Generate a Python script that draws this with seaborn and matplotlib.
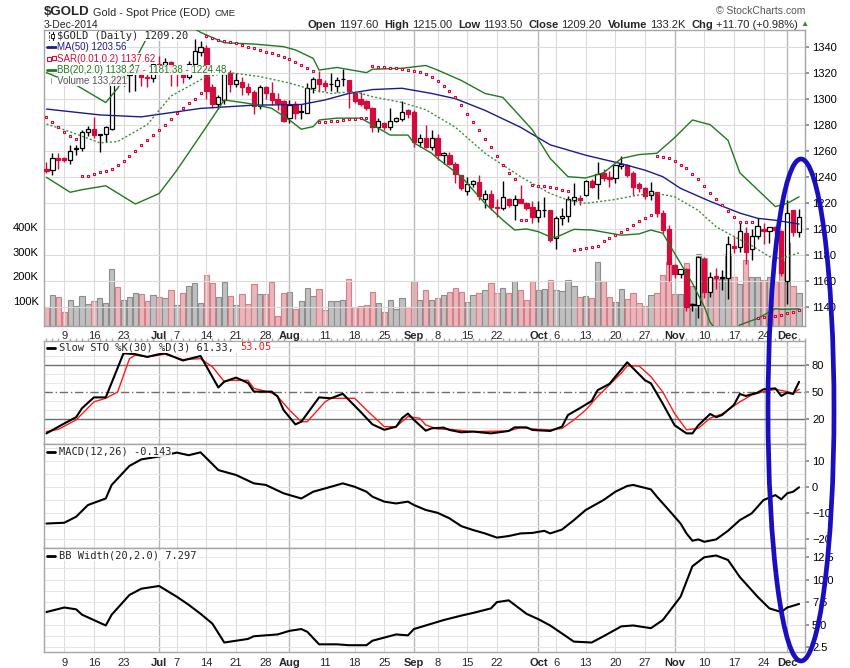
"""
$GOLD daily chart (Jun - Dec 2014) in the StockCharts layout:
candles + MA/BB/SAR + volume, Slow STO, MACD and BB Width panels.
Output: out.png (850x668)
"""

import matplotlib
matplotlib.use("Agg")
import matplotlib.pyplot as plt
from matplotlib.lines import Line2D
from matplotlib.patches import Ellipse, Rectangle
from matplotlib.ticker import MultipleLocator
import numpy as np
import seaborn as sns

# -------------------------------
# Data (trading-day index 0 = 4-Jun-2014 ... 127 = 3-Dec-2014)
# -------------------------------
opens = [1246, 1245, 1254, 1254, 1253, 1261, 1262, 1274, 1277, 1272,
         1273, 1277, 1316, 1316, 1318, 1320, 1322, 1317, 1316, 1327,
         1326, 1328, 1322, 1320, 1317, 1327, 1336, 1339, 1309, 1296,
         1299, 1320, 1311, 1313, 1309, 1305, 1294, 1309, 1304, 1300,
         1298, 1285, 1296, 1290, 1289, 1308, 1315, 1312, 1311, 1310,
         1315, 1314, 1304, 1300, 1298, 1293, 1278, 1281, 1278, 1283,
         1284, 1291, 1290, 1267, 1270, 1263, 1270, 1257, 1257, 1250,
         1241, 1229, 1234, 1236, 1223, 1227, 1217, 1216, 1223, 1218,
         1223, 1220, 1217, 1209, 1214, 1214, 1193, 1208, 1210, 1222,
         1223.5, 1226, 1237, 1234, 1243, 1240, 1239, 1248, 1249, 1243,
         1234, 1231, 1226, 1228, 1212, 1200, 1172, 1165, 1169, 1141,
         1141, 1177, 1151, 1163.6, 1162, 1162, 1187, 1186, 1197, 1184,
         1194, 1200, 1198, 1201, 1198, 1160, 1214, 1197.6]
highs = [1251, 1258, 1258, 1255, 1264, 1264, 1276, 1279, 1286, 1273,
         1279, 1320, 1321, 1322, 1325, 1324, 1324, 1319, 1329, 1333,
         1331, 1329, 1324, 1321, 1329, 1346, 1344, 1341, 1311, 1303,
         1321, 1322, 1320, 1317, 1312, 1307, 1310.5, 1310, 1313, 1304,
         1299, 1299, 1298, 1296, 1312, 1317, 1321, 1314, 1320, 1317,
         1323, 1314.5, 1305, 1305, 1299, 1293.5, 1285, 1282, 1292.6, 1286,
         1298.5, 1292, 1291, 1273, 1280, 1276, 1273, 1259, 1259, 1251,
         1241.5, 1240, 1237.5, 1241, 1230, 1230, 1223, 1237, 1223.5, 1226,
         1233.6, 1220.5, 1221, 1221, 1224.6, 1214.5, 1209.5, 1216, 1225, 1235,
         1226, 1237.5, 1238, 1251, 1246, 1244, 1249, 1256, 1250, 1244,
         1236, 1232, 1236, 1228.5, 1214, 1203, 1173, 1169, 1169.5, 1142.6,
         1179, 1178, 1167, 1169.5, 1168, 1194, 1194, 1204.6, 1201.5, 1199.5,
         1208, 1204, 1201.5, 1202, 1199, 1222, 1214.5, 1215]
lows = [1243, 1241, 1246, 1251, 1250, 1257, 1260, 1271, 1270, 1259,
        1267, 1276, 1310, 1310, 1305, 1306, 1310, 1309, 1313, 1323,
        1322, 1310, 1310, 1312, 1315, 1325, 1333, 1300, 1293, 1292,
        1296, 1305, 1309, 1303, 1303, 1288, 1292, 1300, 1295, 1291,
        1282, 1281, 1284, 1284, 1289, 1304, 1305, 1306, 1306, 1305,
        1310, 1293, 1297, 1294, 1291, 1274, 1274.6, 1276, 1276, 1282,
        1283, 1285, 1263, 1262.6, 1262, 1260.5, 1253, 1250, 1249, 1235,
        1230, 1226, 1232, 1222, 1216, 1214, 1209, 1214, 1217, 1207,
        1219.5, 1214, 1204.6, 1205, 1209, 1190, 1184, 1203, 1205, 1218,
        1218, 1225.5, 1231.5, 1222.6, 1237, 1232, 1235, 1245.6, 1240, 1226,
        1228.5, 1223, 1222, 1209, 1197, 1159.5, 1162, 1162, 1137, 1137,
        1131, 1146.4, 1147.7, 1154, 1153, 1146, 1181, 1182, 1173, 1176,
        1192, 1188, 1189, 1196, 1163.6, 1142, 1194, 1193.5]
closes = [1244, 1254, 1253, 1252.5, 1260, 1262, 1274, 1277, 1272, 1272.5,
          1278, 1314, 1313, 1318, 1320, 1322, 1317, 1316, 1327, 1326,
          1328, 1320, 1321, 1317, 1327, 1337, 1340, 1306, 1296, 1301,
          1319, 1311, 1314, 1309, 1305, 1294, 1309, 1304, 1299, 1297,
          1283, 1295, 1289, 1290, 1308, 1315, 1311, 1310, 1311, 1314,
          1315, 1306, 1298, 1296, 1293, 1278, 1283, 1278, 1283, 1285,
          1290, 1288, 1267, 1270, 1263, 1270, 1257, 1258, 1250, 1242,
          1231, 1234, 1237, 1225, 1227, 1217, 1216, 1224, 1218, 1223,
          1220, 1216, 1209, 1214, 1214.5, 1191, 1208, 1210, 1223, 1224,
          1222, 1237, 1232, 1242, 1239, 1238.5, 1249, 1250, 1241, 1232,
          1231, 1225, 1229, 1212, 1199, 1173, 1165, 1169, 1140, 1142,
          1178, 1151.5, 1163, 1162, 1162.3, 1188, 1185.5, 1198, 1182, 1194,
          1202, 1198, 1201, 1199, 1166, 1212, 1197.6, 1209.2]
volume_k = [76, 124, 116, 57, 104, 80, 120, 88, 100, 112,
            93, 229, 157, 104, 116, 132, 128, 100, 124, 116,
            112, 144, 84, 132, 161, 173, 92, 205, 173, 116,
            177, 120, 84, 128, 88, 169, 128, 128, 177, 39,
            132, 136, 67, 100, 152, 120, 148, 63, 100, 100,
            104, 189, 76, 80, 84, 136, 92, 55, 104, 67,
            112, 76, 181, 104, 144, 104, 112, 124, 136, 152,
            136, 96, 124, 132, 144, 173, 132, 152, 132, 181,
            144, 104, 181, 144, 148, 185, 144, 140, 185, 161,
            116, 120, 112, 258, 181, 116, 96, 148, 108, 132,
            92, 80, 124, 132, 205, 258, 128, 128, 254, 161,
            291, 274, 193, 190, 190, 290, 197, 169, 266, 197,
            197, 186, 197, 180, 260, 335, 161, 133]
sar = [1285.7, 1282, 1278.3, 1274.3, 1271, 1269, 1240.8, 1240.8, 1242, 1243.8,
       1244, 1245.7, 1248.8, 1252.3, 1255.7, 1260, 1264.4, 1268, 1272, 1276,
       1280, 1284.4, 1288.8, 1292.6, 1297, 1300, 1304, 1348, 1346.4, 1345,
       1344.6, 1343.7, 1342.6, 1341.3, 1340, 1338.8, 1337.5, 1336, 1335, 1333.8,
       1332.3, 1330.5, 1328.2, 1326, 1323.8, 1321.5, 1281.8, 1281.8, 1282.8, 1282.8,
       1283.6, 1284, 1284, 1285, 1285, 1325, 1324.6, 1324, 1323.4, 1323.4,
       1322.6, 1322, 1321.5, 1320.4, 1318.8, 1316.5, 1313.6, 1309.8, 1306, 1301,
       1295, 1288, 1281.8, 1276, 1268.8, 1262.6, 1256, 1248.8, 1242.6, 1238,
       1207, 1207, 1233.4, 1233, 1233, 1232.3, 1231.6, 1229.8, 1229, 1183.6,
       1184.4, 1185, 1185.7, 1187, 1190.5, 1192.6, 1194.8, 1197.7, 1200, 1202.8,
       1206, 1208, 1210.5, 1256, 1255.4, 1254, 1252, 1249, 1246.4, 1242,
       1238, 1232.8, 1227.2, 1222.6, 1218, 1213.6, 1209, 1205.4, 1205, 1205,
       1131.6, 1132.3, 1132.5, 1132.8, 1133.6, 1134.8, 1136, 1137.6]

# indicator lines at these day indices
ma_idx = [0, 9, 16, 26, 35, 43, 47, 51, 55, 60, 65, 69, 74, 80, 85, 91, 97, 101,
          104, 107, 112, 117, 120, 123, 127]
ma_val = [1292, 1287.5, 1286, 1292.5, 1295, 1295.5, 1299, 1304, 1307, 1308, 1304,
          1300, 1291, 1278, 1264.5, 1256.5, 1250, 1245, 1240, 1231, 1221, 1212,
          1208, 1206.5, 1203.6]
bb_up_idx = [0, 5, 10, 12, 15, 18, 22, 26, 30, 35, 40, 42, 45, 46, 49, 54, 55, 60,
             64, 66, 70, 74, 77, 79, 82, 85, 88, 91, 94, 97, 100, 103, 106, 109,
             112, 115, 117, 120, 123, 125, 127]
bb_up_val = [1320, 1310.5, 1297, 1308, 1330, 1356, 1362, 1351, 1343, 1342, 1340,
             1337.5, 1331, 1322, 1324, 1320, 1322.6, 1323.4, 1325.5, 1322, 1314,
             1304, 1301, 1291, 1276, 1254, 1240, 1239, 1243, 1254, 1257, 1258,
             1270, 1283.6, 1280, 1268, 1243, 1230, 1217, 1219.5, 1224.5]
bb_mid_idx = [0, 4, 9, 12, 17, 21, 27, 31, 36, 41, 45, 48, 52, 55, 60, 64, 69, 74,
              80, 85, 88, 91, 96, 100, 103, 106, 110, 113, 116, 119, 122, 124, 127]
bb_mid_val = [1280.5, 1274.5, 1266, 1267, 1280, 1302, 1317, 1320, 1317, 1312,
              1306.7, 1304, 1305.4, 1301.5, 1297, 1291.5, 1278, 1258, 1240, 1227,
              1222, 1219.5, 1222.5, 1226, 1227, 1224.6, 1214, 1201.5, 1194, 1187,
              1178.5, 1177, 1181.4]
bb_lo_idx = [0, 4, 6, 10, 15, 19, 22, 27, 30, 34, 38, 41, 43, 45, 46, 49, 53, 55,
             58, 61, 62, 65, 66, 70, 74, 77, 79, 81, 83, 85, 86, 89, 92, 97, 100,
             102, 104, 106, 109, 111, 112, 114, 116, 117, 120, 122, 123, 124, 127]
bb_lo_val = [1239.5, 1228, 1230, 1233, 1219, 1227, 1245, 1278.5, 1299, 1296.4,
             1292.6, 1283.6, 1276.5, 1278.5, 1283.6, 1285, 1285, 1280, 1272, 1272,
             1266, 1258, 1254, 1240, 1219.5, 1206.7, 1199, 1199.8, 1197.7, 1193.8,
             1193.4, 1199.5, 1199, 1195, 1196, 1199, 1196.5, 1181, 1158, 1140,
             1128, 1116, 1120, 1126, 1131, 1136, 1138.5, 1138, 1138.3]

k_idx = [0, 3, 5, 6, 8, 10, 13, 15, 17, 19, 20, 23, 26, 29, 30, 32, 34, 35, 38, 39,
         40, 42, 43, 46, 48, 50, 53, 55, 57, 59, 60, 61, 62, 64, 65, 67, 68, 70, 72,
         75, 78, 79, 81, 82, 85, 87, 88, 90, 92, 93, 95, 98, 101, 102, 104, 106,
         108, 109, 110, 112, 113, 114, 116, 117, 118, 120, 121, 123, 124, 125, 126, 127]
k_val = [4, 15, 22, 32, 44, 44, 93, 92, 89, 92, 93, 85, 90, 55, 61.5, 66, 60, 50.4,
         50.4, 45, 30, 14, 17, 44, 43, 48, 28, 14, 8, 11.4, 21, 26, 19, 7, 9.6, 10.4,
         7.8, 5.2, 6, 4, 6.7, 10.7, 10.7, 7.8, 6.7, 11.5, 24.4, 32, 40, 52, 59, 83,
         63, 59.6, 37, 13, 4, 4, 13, 25.6, 22, 24.4, 35.6, 47.8, 45.6, 49.3, 53, 54,
         45.6, 49.3, 47.8, 61.3]
d_idx = [0, 2, 5, 8, 10, 12, 14, 15, 17, 20, 23, 26, 28, 30, 31, 34, 35, 38, 39, 41,
         43, 44, 47, 48, 52, 54, 57, 59, 61, 63, 64, 66, 68, 72, 78, 80, 83, 85, 87,
         89, 91, 93, 95, 97, 98, 100, 102, 104, 106, 108, 110, 112, 114, 117, 119,
         121, 123, 125, 126, 127]
d_val = [6, 8.5, 19, 39, 43, 50, 87, 91, 89, 92, 86, 87, 78, 61.5, 63, 63, 54, 49,
         45, 30, 17, 17, 39, 43, 43, 30, 11.5, 11.5, 22.6, 20.8, 13.3, 8.9, 8.5, 6,
         6.7, 10.4, 8.5, 7.8, 9.6, 19, 30, 45, 58, 71, 79, 79, 67, 50, 26, 8, 9.6,
         21, 25.6, 39, 46.7, 50.4, 53, 50.4, 48.5, 53]
macd_idx = [0, 3, 5, 7, 10, 11, 14, 16, 19, 22, 24, 26, 29, 32, 35, 37, 40, 43, 45,
            48, 50, 52, 54, 55, 57, 59, 61, 62, 64, 66, 68, 70, 72, 74, 76, 78, 80,
            82, 84, 85, 87, 89, 91, 94, 96, 98, 99, 102, 103, 105, 107, 108, 109,
            110, 111, 113, 115, 117, 119, 121, 123, 124, 125, 126, 127]
macd_val = [-14, -13.7, -11.4, -6.9, -4.4, 0.8, 8.1, 10.6, 11.7, 13.2, 12.2, 13.3,
            6.5, 4.6, 1.4, 0.8, -2.4, -4.4, -1.8, 0.1, 1.4, 0.1, -1.8, -3.7, -5.6,
            -6.3, -5.6, -6.9, -8.8, -9.9, -12, -15, -16.5, -17.8, -19.4, -18.8,
            -17.8, -17.6, -16.8, -17.8, -16.3, -12.7, -8.8, -5, -1.8, 0.4, 0.8,
            -0.9, -3.7, -8.8, -14, -17.8, -20.6, -20.1, -21, -20.1, -16.8, -12.7,
            -10.1, -5, -3.1, -4.7, -2.4, -1.8, -0.1]
bbw_idx = [0, 3, 5, 6, 10, 11, 14, 16, 19, 22, 24, 26, 28, 30, 32, 34, 35, 39, 41,
           43, 44, 46, 49, 51, 54, 55, 59, 61, 62, 64, 65, 67, 70, 72, 75, 76, 78,
           81, 83, 85, 89, 92, 94, 97, 99, 102, 104, 107, 109, 111, 113, 115, 117,
           120, 122, 124, 125, 127]
bbw_val = [6.4, 6.9, 6.7, 6.1, 4.9, 6.1, 8.3, 9, 9.3, 8.1, 7.2, 6.2, 5.1, 3, 3.2,
           3.4, 3.7, 3.9, 4.3, 4.5, 4.2, 2.8, 2.8, 2.7, 2.7, 3.2, 3.9, 3.8, 4.5,
           4.9, 5.1, 5.5, 6, 6.3, 6.8, 7.5, 7.7, 6.2, 5.6, 4.9, 3.1, 3, 3.7, 4.8,
           4.9, 4.6, 5.5, 8.1, 11.5, 12.5, 12.7, 12.2, 10.3, 8.1, 6.8, 6.4, 6.9, 7.3]

tick_idx = [3, 8, 13, 19, 22, 27, 32, 37, 41, 47, 52, 57, 62, 66, 71, 76, 83, 86,
            91, 96, 101, 106, 111, 116, 121, 125]
tick_lab = ["9", "16", "23", "Jul", "7", "14", "21", "28", "Aug", "11", "18", "25",
            "Sep", "8", "15", "22", "Oct", "6", "13", "20", "27", "Nov", "10", "17",
            "24", "Dec"]

# -------------------------------
# Style
# -------------------------------
RED = "#d40a3c"
NAVY = "#1b1b8f"
GREEN = "#1f7a1f"
GRID = "#dcdcdc"
SPINE = "#a5a5a5"
W, H = 850, 668

sns.set_theme(style="white")
plt.rcParams["font.family"] = ["Liberation Sans", "DejaVu Sans"]
MONO = ["DejaVu Sans Mono", "DejaVu Sans"]

fig = plt.figure(figsize=(W / 100, H / 100), dpi=100)
renderer = fig.canvas.get_renderer()


def box(x0, y0, x1, y1):
    return [x0 / W, 1 - y1 / H, (x1 - x0) / W, (y1 - y0) / H]


def fx(px):
    return px / W


def fy(py):
    return 1 - py / H


L, R = 44.3, 805
XLIM = (-0.37, 128.0)
ax_v = fig.add_axes(box(L, 30, R, 325.7))
ax_p = fig.add_axes(box(L, 30, R, 325.7))
ax_s = fig.add_axes(box(L, 340.7, R, 444))
ax_m = fig.add_axes(box(L, 444, R, 548.3))
ax_b = fig.add_axes(box(L, 548.3, R, 652.3))
ax_v.set_zorder(0)
ax_p.set_zorder(1)
ax_p.patch.set_visible(False)

x = np.arange(len(closes))
o, h, l, c = map(np.array, (opens, highs, lows, closes))
up = c >= o

# -------------------------------
# Volume (behind the price panel)
# -------------------------------
vol = np.array(volume_k)
down_day = np.r_[True, c[1:] < c[:-1]]
ax_v.bar(x, vol, width=0.9,
         color=np.where(down_day, "#e8b6bb", "#c0c0c0"),
         edgecolor=np.where(down_day, "#d77f88", "#8c8c8c"), linewidth=0.8)
ax_v.set_xlim(*XLIM)
ax_v.set_ylim(0, 1197)
ax_v.set_yticks([100, 200, 300, 400], ["100K", "200K", "300K", "400K"])
ax_v.tick_params(axis="y", labelsize=8, length=3, pad=1, colors="black")
ax_v.tick_params(axis="x", bottom=False, labelbottom=False)
for sp in ax_v.spines.values():
    sp.set_visible(False)

# -------------------------------
# Price panel
# -------------------------------
for ti, lab in zip(tick_idx, tick_lab):
    month = lab.isalpha()
    for ax in (ax_p, ax_s, ax_m, ax_b):
        ax.axvline(ti, color="#b8b8b8" if month else GRID,
                   lw=1.0 if month else 0.8, zorder=0.5)

ax_p.vlines(x, l, h, colors=np.where(up, "black", RED), lw=1.0, zorder=3)
ax_p.bar(x, np.maximum(np.abs(c - o), 0.5), bottom=np.minimum(o, c), width=0.72,
         color=np.where(up, "white", RED), edgecolor=np.where(up, "black", RED),
         linewidth=0.9, zorder=4)

sns.lineplot(x=ma_idx, y=ma_val, ax=ax_p, color=NAVY, linewidth=1.0, zorder=5)
sns.lineplot(x=bb_up_idx, y=bb_up_val, ax=ax_p, color=GREEN, linewidth=1.0, zorder=5)
sns.lineplot(x=bb_lo_idx, y=bb_lo_val, ax=ax_p, color=GREEN, linewidth=1.0, zorder=5)
sns.lineplot(x=bb_mid_idx, y=bb_mid_val, ax=ax_p, color="#3f8f3f", linewidth=1.0,
             linestyle=(0, (1.5, 1.5)), zorder=5)
ax_p.scatter(x, sar, marker="s", s=4, facecolor="white", edgecolor=RED,
             linewidth=0.8, zorder=6)

ax_p.set_xlim(*XLIM)
ax_p.set_ylim(1125.4, 1352.8)
ax_p.set_yticks(range(1140, 1341, 20))
ax_p.yaxis.tick_right()
ax_p.grid(axis="y", color=GRID, lw=0.8)
ax_p.set_axisbelow(True)

# -------------------------------
# Slow STO
# -------------------------------
ax_s.set_ylim(-7.8, 107)
ax_s.set_yticks([20, 50, 80])
ax_s.yaxis.set_minor_locator(MultipleLocator(10))
ax_s.grid(which="minor", axis="y", color="#e8e8e8", lw=0.7)
ax_s.axhline(80, color="#6e6e6e", lw=1.0, zorder=1)
ax_s.axhline(20, color="#6e6e6e", lw=1.0, zorder=1)
ax_s.axhline(50, color="#6e6e6e", lw=1.0, ls=(0, (6, 2, 1, 2)), zorder=1)
sns.lineplot(x=d_idx, y=d_val, ax=ax_s, color="#ff1a1a", linewidth=1.0, zorder=3)
sns.lineplot(x=k_idx, y=k_val, ax=ax_s, color="black", linewidth=1.5, zorder=4)

# -------------------------------
# MACD
# -------------------------------
ax_m.set_ylim(-23.5, 16.5)
ax_m.set_yticks([-20, -10, 0, 10])
ax_m.yaxis.set_minor_locator(MultipleLocator(5))
ax_m.grid(which="both", axis="y", color="#e6e6e6", lw=0.7)
sns.lineplot(x=macd_idx, y=macd_val, ax=ax_m, color="black", linewidth=1.5, zorder=4)

# -------------------------------
# BB Width
# -------------------------------
ax_b.set_ylim(1.91, 13.5)
ax_b.set_yticks([2.5, 5, 7.5, 10, 12.5], ["2.5", "5.0", "7.5", "10.0", "12.5"])
ax_b.yaxis.set_minor_locator(MultipleLocator(1.25))
ax_b.grid(which="both", axis="y", color="#e6e6e6", lw=0.7)
sns.lineplot(x=bbw_idx, y=bbw_val, ax=ax_b, color="black", linewidth=1.5, zorder=4)

# -------------------------------
# Shared axis cosmetics
# -------------------------------
for ax in (ax_p, ax_s, ax_m, ax_b):
    ax.set_xlim(*XLIM)
    ax.set_xlabel("")
    ax.set_ylabel("")
    ax.yaxis.tick_right()
    ax.tick_params(axis="y", which="major", labelsize=8, length=3, pad=2,
                   color="#888888", labelcolor="black")
    ax.tick_params(axis="y", which="minor", length=0)
    for sp in ax.spines.values():
        sp.set_color(SPINE)
        sp.set_linewidth(1.0)
    ax.set_xticks(tick_idx, tick_lab)
    ax.xaxis.set_minor_locator(MultipleLocator(1))
    ax.tick_params(axis="x", which="major", length=3, color="#999999",
                   labelsize=8, pad=1)
    ax.tick_params(axis="x", which="minor", length=2, color="#aaaaaa")
    for lab in ax.get_xticklabels():
        if lab.get_text().isalpha():
            lab.set_fontweight("bold")

for ax in (ax_s, ax_m):
    ax.tick_params(axis="x", which="both", labelbottom=False, bottom=False)
ax_s.tick_params(axis="x", which="minor", top=True)

# -------------------------------
# Header
# -------------------------------
t_sym = fig.text(fx(44), fy(12), "$GOLD", fontsize=9.5, fontweight="bold",
                 va="center")
x_next = 44 + t_sym.get_window_extent(renderer).width + 3
t_name = fig.text(fx(x_next), fy(12.5), "Gold - Spot Price (EOD)", fontsize=7.8,
                  va="center")
x_next += t_name.get_window_extent(renderer).width + 5
fig.text(fx(x_next), fy(13), "CME", fontsize=6.8, va="center")
fig.text(fx(44), fy(24.5), "3-Dec-2014", fontsize=7.5, va="center")
fig.text(fx(805), fy(10.5), "\u00a9 StockCharts.com", fontsize=7.5, color="#555555",
         ha="right", va="center")

pieces = [("Open", True), (f"{opens[-1]:.2f}", False), ("High", True),
          (f"{highs[-1]:.2f}", False), ("Low", True), (f"{lows[-1]:.2f}", False),
          ("Close", True), (f"{closes[-1]:.2f}", False), ("Volume", True),
          ("133.2K", False), ("Chg", True), ("+11.70 (+0.98%)", False)]
placed, cursor = [], 0.0
for s, bold in pieces:
    t = fig.text(0, fy(24.5), s, fontsize=8, va="center", ha="left",
                 fontweight="bold" if bold else "normal")
    w = t.get_window_extent(renderer).width
    placed.append((t, cursor))
    cursor += w + (3 if bold else 6)
start = 798 - (cursor - 6)
for t, off in placed:
    t.set_x(fx(start + off))
fig.text(fx(800), fy(24), "\u25b2", fontsize=6, color="#2e8b2e", va="center")

# -------------------------------
# Legends
# -------------------------------
BOX = dict(facecolor="white", edgecolor="none", pad=0.3, alpha=0.9)


def fline(x0, x1, y, color, lw=2.0):
    fig.add_artist(Line2D([fx(x0), fx(x1)], [fy(y), fy(y)], color=color, lw=lw,
                          transform=fig.transFigure, zorder=6))


# candle icon
fig.add_artist(Line2D([fx(48.5), fx(48.5)], [fy(32), fy(40)], color="black", lw=0.8,
                      transform=fig.transFigure, zorder=6))
fig.add_artist(Rectangle((fx(47.5), fy(38.5)), 2 / W, 4 / H, facecolor="black",
                         transform=fig.transFigure, zorder=6))
fig.add_artist(Line2D([fx(52.5), fx(52.5)], [fy(32), fy(40)], color="black", lw=0.8,
                      transform=fig.transFigure, zorder=6))
fig.add_artist(Rectangle((fx(51.3), fy(38)), 2.4 / W, 4 / H, facecolor="white",
                         edgecolor="black", lw=0.6, transform=fig.transFigure, zorder=6))
fig.text(fx(57), fy(36), "$GOLD (Daily) 1209.20", fontsize=7.5, family=MONO,
         va="center", bbox=BOX, zorder=7)
fline(47, 56, 47.3, NAVY)
fig.text(fx(57), fy(47.3), "MA(50) 1203.56", fontsize=7, color=NAVY, va="center",
         bbox=BOX, zorder=7)
fig.add_artist(Line2D([fx(48.5), fx(53.5)], [fy(58.5), fy(57.5)], ls="none",
                      marker="s", ms=2.2, mfc="white", mec=RED, mew=0.8,
                      transform=fig.transFigure, zorder=6))
fig.text(fx(57), fy(58.5), "SAR(0.01,0.2) 1137.62", fontsize=7, color=RED,
         va="center", bbox=BOX, zorder=7)
fline(47, 56, 70, GREEN)
fig.text(fx(57), fy(70), "BB(20,2.0) 1138.27 - 1181.38 - 1224.48", fontsize=7,
         color=GREEN, va="center", bbox=BOX, zorder=7)
for bx, bh in ((47.5, 4), (50, 6), (52.5, 5)):
    fig.add_artist(Rectangle((fx(bx), fy(83.5)), 1.8 / W, bh / H, facecolor="#666666",
                             transform=fig.transFigure, zorder=6))
fig.text(fx(57), fy(80.5), "Volume 133,221", fontsize=7, color="#555555",
         va="center", bbox=BOX, zorder=7)

fline(47, 55, 347.5, "black")
t1 = fig.text(fx(59), fy(347.5), "Slow STO %K(30) %D(3) 61.33, ", fontsize=7.5,
              family=MONO, va="center", bbox=BOX, zorder=7)
w1 = t1.get_window_extent(renderer).width
fig.text(fx(59 + w1), fy(347.5), "53.05", fontsize=7.5, family=MONO, color="#ff1a1a",
         va="center", bbox=BOX, zorder=7)
fline(47, 55, 451.7, "black")
fig.text(fx(59), fy(451.7), "MACD(12,26) -0.143", fontsize=7.5, family=MONO,
         va="center", bbox=BOX, zorder=7)
fline(47, 55, 555.7, "black")
fig.text(fx(59), fy(555.7), "BB Width(20,2.0) 7.297", fontsize=7.5, family=MONO,
         va="center", bbox=BOX, zorder=7)

# -------------------------------
# Hand-drawn blue ellipse
# -------------------------------
fig.add_artist(Ellipse((fx(801), fy(410)), 66 / W, 502 / H, transform=fig.transFigure,
                       fill=False, edgecolor="#1a0fbf", linewidth=3.4, zorder=10))

fig.savefig("out.png", dpi=100)
